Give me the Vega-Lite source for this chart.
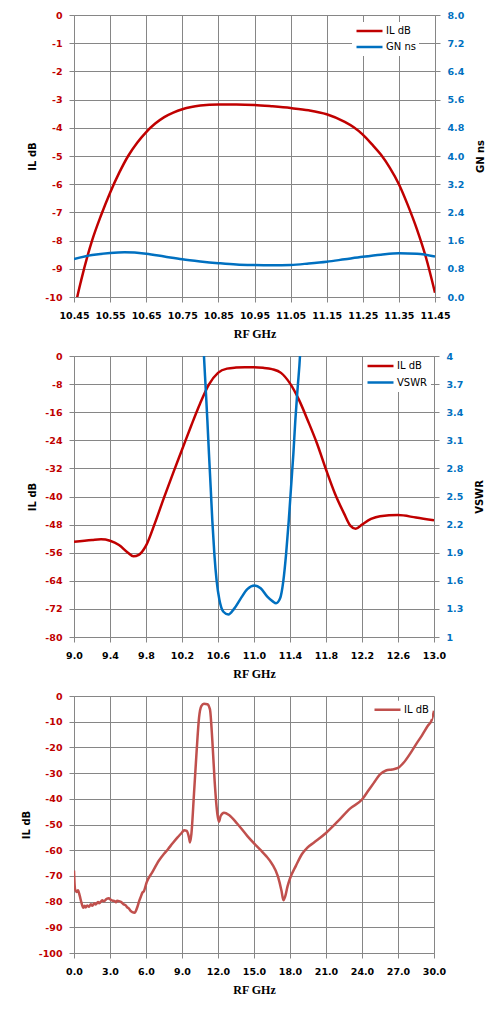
{
  "$schema": "https://vega.github.io/schema/vega-lite/v6.json",
  "background": "white",
  "padding": {"left": 21, "top": 10, "right": 5, "bottom": 5},
  "config": {
    "view": {"stroke": null},
    "axis": {
      "gridColor": "#868686", "gridOpacity": 1, "gridWidth": 1,
      "domainColor": "#868686", "domainWidth": 1,
      "tickColor": "#868686", "tickSize": 5, "tickWidth": 1, "tickCount": 30,
      "labelFont": "DejaVu Sans", "labelFontSize": 9.5, "labelFontWeight": "bold",
      "labelPadding": 7, "labelOverlap": false, "labelFlush": false,
      "titleFont": "DejaVu Sans", "titleFontSize": 10, "titleFontWeight": "bold", "titleColor": "black"
    },
    "axisX": {"labelColor": "black", "labelPadding": 8.5, "titleFont": "Liberation Serif", "titleFontSize": 12, "titlePadding": 8},
    "axisLeft": {"labelColor": "#C00000", "titlePadding": 7},
    "axisRight": {"labelColor": "#0070C0", "titleAngle": 270, "titleBaseline": "top", "titlePadding": 12, "grid": false},
    "legend": {
      "orient": "none", "title": null, "symbolType": "stroke", "symbolSize": 676, "symbolStrokeWidth": 2.5,
      "labelFont": "DejaVu Sans", "labelFontSize": 10, "labelColor": "black", "labelOffset": 2,
      "fillColor": "white", "padding": 3, "rowPadding": 4, "clipHeight": 12
    }
  },
  "datasets": {
    "p1_il": [
      {"series": "IL dB", "f": 10.45, "v": -10.6}, {"series": "IL dB", "f": 10.459, "v": -10.0},
      {"series": "IL dB", "f": 10.47, "v": -9.4}, {"series": "IL dB", "f": 10.5, "v": -8.0},
      {"series": "IL dB", "f": 10.525, "v": -7.1}, {"series": "IL dB", "f": 10.55, "v": -6.3},
      {"series": "IL dB", "f": 10.575, "v": -5.6}, {"series": "IL dB", "f": 10.6, "v": -5.0},
      {"series": "IL dB", "f": 10.625, "v": -4.53}, {"series": "IL dB", "f": 10.65, "v": -4.15},
      {"series": "IL dB", "f": 10.675, "v": -3.85}, {"series": "IL dB", "f": 10.7, "v": -3.62},
      {"series": "IL dB", "f": 10.725, "v": -3.46}, {"series": "IL dB", "f": 10.75, "v": -3.34},
      {"series": "IL dB", "f": 10.775, "v": -3.26}, {"series": "IL dB", "f": 10.8, "v": -3.21},
      {"series": "IL dB", "f": 10.85, "v": -3.17}, {"series": "IL dB", "f": 10.9, "v": -3.17},
      {"series": "IL dB", "f": 10.95, "v": -3.19}, {"series": "IL dB", "f": 11.0, "v": -3.24},
      {"series": "IL dB", "f": 11.05, "v": -3.3}, {"series": "IL dB", "f": 11.1, "v": -3.38},
      {"series": "IL dB", "f": 11.15, "v": -3.52}, {"series": "IL dB", "f": 11.2, "v": -3.79},
      {"series": "IL dB", "f": 11.225, "v": -3.98}, {"series": "IL dB", "f": 11.25, "v": -4.24},
      {"series": "IL dB", "f": 11.275, "v": -4.58}, {"series": "IL dB", "f": 11.3, "v": -4.95},
      {"series": "IL dB", "f": 11.325, "v": -5.42}, {"series": "IL dB", "f": 11.35, "v": -6.0},
      {"series": "IL dB", "f": 11.375, "v": -6.75}, {"series": "IL dB", "f": 11.4, "v": -7.6},
      {"series": "IL dB", "f": 11.425, "v": -8.6}, {"series": "IL dB", "f": 11.45, "v": -9.85}
    ],
    "p1_gn": [
      {"series": "GN ns", "f": 10.45, "v": 1.08}, {"series": "GN ns", "f": 10.5, "v": 1.19},
      {"series": "GN ns", "f": 10.55, "v": 1.25}, {"series": "GN ns", "f": 10.59, "v": 1.27},
      {"series": "GN ns", "f": 10.65, "v": 1.23}, {"series": "GN ns", "f": 10.7, "v": 1.15},
      {"series": "GN ns", "f": 10.75, "v": 1.07}, {"series": "GN ns", "f": 10.8, "v": 1.01},
      {"series": "GN ns", "f": 10.85, "v": 0.96}, {"series": "GN ns", "f": 10.9, "v": 0.92},
      {"series": "GN ns", "f": 10.95, "v": 0.905}, {"series": "GN ns", "f": 11.0, "v": 0.9},
      {"series": "GN ns", "f": 11.05, "v": 0.91}, {"series": "GN ns", "f": 11.1, "v": 0.95},
      {"series": "GN ns", "f": 11.15, "v": 1.0}, {"series": "GN ns", "f": 11.2, "v": 1.07},
      {"series": "GN ns", "f": 11.25, "v": 1.14}, {"series": "GN ns", "f": 11.3, "v": 1.2},
      {"series": "GN ns", "f": 11.35, "v": 1.24}, {"series": "GN ns", "f": 11.4, "v": 1.23},
      {"series": "GN ns", "f": 11.45, "v": 1.15}
    ],
    "p2_il": [
      {"series": "IL dB", "f": 9.0, "v": -52.9}, {"series": "IL dB", "f": 9.2, "v": -52.4},
      {"series": "IL dB", "f": 9.3, "v": -52.2}, {"series": "IL dB", "f": 9.4, "v": -52.6},
      {"series": "IL dB", "f": 9.5, "v": -53.8}, {"series": "IL dB", "f": 9.6, "v": -56.0},
      {"series": "IL dB", "f": 9.66, "v": -57.0}, {"series": "IL dB", "f": 9.72, "v": -56.6},
      {"series": "IL dB", "f": 9.8, "v": -54.0}, {"series": "IL dB", "f": 9.9, "v": -47.5},
      {"series": "IL dB", "f": 10.0, "v": -40.3}, {"series": "IL dB", "f": 10.1, "v": -33.4},
      {"series": "IL dB", "f": 10.2, "v": -26.7}, {"series": "IL dB", "f": 10.3, "v": -20.0},
      {"series": "IL dB", "f": 10.4, "v": -13.6}, {"series": "IL dB", "f": 10.5, "v": -8.1},
      {"series": "IL dB", "f": 10.6, "v": -4.8}, {"series": "IL dB", "f": 10.7, "v": -3.6},
      {"series": "IL dB", "f": 10.8, "v": -3.3}, {"series": "IL dB", "f": 10.9, "v": -3.2},
      {"series": "IL dB", "f": 11.0, "v": -3.2}, {"series": "IL dB", "f": 11.1, "v": -3.35},
      {"series": "IL dB", "f": 11.2, "v": -3.75}, {"series": "IL dB", "f": 11.3, "v": -4.8},
      {"series": "IL dB", "f": 11.4, "v": -7.8}, {"series": "IL dB", "f": 11.5, "v": -12.5},
      {"series": "IL dB", "f": 11.6, "v": -18.5}, {"series": "IL dB", "f": 11.7, "v": -24.9},
      {"series": "IL dB", "f": 11.8, "v": -32.3}, {"series": "IL dB", "f": 11.9, "v": -39.2},
      {"series": "IL dB", "f": 12.0, "v": -44.8}, {"series": "IL dB", "f": 12.07, "v": -48.3},
      {"series": "IL dB", "f": 12.13, "v": -49.2}, {"series": "IL dB", "f": 12.2, "v": -48.0},
      {"series": "IL dB", "f": 12.3, "v": -46.4}, {"series": "IL dB", "f": 12.4, "v": -45.6},
      {"series": "IL dB", "f": 12.6, "v": -45.3}, {"series": "IL dB", "f": 12.8, "v": -46.0},
      {"series": "IL dB", "f": 13.0, "v": -46.8}
    ],
    "p2_vswr": [
      {"series": "VSWR", "f": 10.43, "v": 4.3}, {"series": "VSWR", "f": 10.444, "v": 4.0},
      {"series": "VSWR", "f": 10.463, "v": 3.66}, {"series": "VSWR", "f": 10.482, "v": 3.31},
      {"series": "VSWR", "f": 10.5, "v": 2.95}, {"series": "VSWR", "f": 10.519, "v": 2.59},
      {"series": "VSWR", "f": 10.537, "v": 2.24}, {"series": "VSWR", "f": 10.56, "v": 1.88},
      {"series": "VSWR", "f": 10.585, "v": 1.6}, {"series": "VSWR", "f": 10.615, "v": 1.4},
      {"series": "VSWR", "f": 10.66, "v": 1.27}, {"series": "VSWR", "f": 10.716, "v": 1.24},
      {"series": "VSWR", "f": 10.778, "v": 1.3}, {"series": "VSWR", "f": 10.852, "v": 1.41},
      {"series": "VSWR", "f": 10.926, "v": 1.51}, {"series": "VSWR", "f": 11.007, "v": 1.55},
      {"series": "VSWR", "f": 11.074, "v": 1.52}, {"series": "VSWR", "f": 11.148, "v": 1.43},
      {"series": "VSWR", "f": 11.208, "v": 1.38}, {"series": "VSWR", "f": 11.245, "v": 1.36},
      {"series": "VSWR", "f": 11.289, "v": 1.41}, {"series": "VSWR", "f": 11.326, "v": 1.6},
      {"series": "VSWR", "f": 11.356, "v": 1.88}, {"series": "VSWR", "f": 11.386, "v": 2.24},
      {"series": "VSWR", "f": 11.411, "v": 2.59}, {"series": "VSWR", "f": 11.437, "v": 2.95},
      {"series": "VSWR", "f": 11.459, "v": 3.31}, {"series": "VSWR", "f": 11.485, "v": 3.66},
      {"series": "VSWR", "f": 11.511, "v": 4.0}, {"series": "VSWR", "f": 11.525, "v": 4.3}
    ],
    "p3_il": [
      {"series": "IL dB", "f": 0.0, "v": -67.9}, {"series": "IL dB", "f": 0.08, "v": -75.0},
      {"series": "IL dB", "f": 0.2, "v": -76.3}, {"series": "IL dB", "f": 0.33, "v": -75.6},
      {"series": "IL dB", "f": 0.47, "v": -77.6}, {"series": "IL dB", "f": 0.61, "v": -80.2},
      {"series": "IL dB", "f": 0.78, "v": -82.4}, {"series": "IL dB", "f": 0.9, "v": -81.6},
      {"series": "IL dB", "f": 0.97, "v": -82.3}, {"series": "IL dB", "f": 1.1, "v": -81.5},
      {"series": "IL dB", "f": 1.25, "v": -82.0}, {"series": "IL dB", "f": 1.4, "v": -81.0},
      {"series": "IL dB", "f": 1.53, "v": -81.6}, {"series": "IL dB", "f": 1.7, "v": -80.6},
      {"series": "IL dB", "f": 1.81, "v": -81.1}, {"series": "IL dB", "f": 2.0, "v": -80.2},
      {"series": "IL dB", "f": 2.1, "v": -80.6}, {"series": "IL dB", "f": 2.36, "v": -79.5},
      {"series": "IL dB", "f": 2.5, "v": -79.9}, {"series": "IL dB", "f": 2.72, "v": -78.9},
      {"series": "IL dB", "f": 2.9, "v": -78.7}, {"series": "IL dB", "f": 3.06, "v": -79.3},
      {"series": "IL dB", "f": 3.2, "v": -79.6}, {"series": "IL dB", "f": 3.39, "v": -79.8},
      {"series": "IL dB", "f": 3.5, "v": -80.3}, {"series": "IL dB", "f": 3.6, "v": -79.7},
      {"series": "IL dB", "f": 3.75, "v": -79.8}, {"series": "IL dB", "f": 3.94, "v": -80.2},
      {"series": "IL dB", "f": 4.1, "v": -80.9}, {"series": "IL dB", "f": 4.31, "v": -81.5},
      {"series": "IL dB", "f": 4.45, "v": -82.3}, {"series": "IL dB", "f": 4.58, "v": -82.7},
      {"series": "IL dB", "f": 4.7, "v": -83.5}, {"series": "IL dB", "f": 4.86, "v": -84.1},
      {"series": "IL dB", "f": 5.05, "v": -84.3}, {"series": "IL dB", "f": 5.28, "v": -82.1},
      {"series": "IL dB", "f": 5.45, "v": -79.5}, {"series": "IL dB", "f": 5.56, "v": -78.2},
      {"series": "IL dB", "f": 5.7, "v": -76.5}, {"series": "IL dB", "f": 5.83, "v": -75.9},
      {"series": "IL dB", "f": 6.06, "v": -72.4}, {"series": "IL dB", "f": 6.53, "v": -68.5},
      {"series": "IL dB", "f": 7.08, "v": -64.0}, {"series": "IL dB", "f": 7.5, "v": -61.4},
      {"series": "IL dB", "f": 7.83, "v": -59.6}, {"series": "IL dB", "f": 8.2, "v": -57.4},
      {"series": "IL dB", "f": 8.61, "v": -55.1}, {"series": "IL dB", "f": 9.0, "v": -53.1},
      {"series": "IL dB", "f": 9.17, "v": -52.2}, {"series": "IL dB", "f": 9.39, "v": -52.5},
      {"series": "IL dB", "f": 9.58, "v": -55.0}, {"series": "IL dB", "f": 9.67, "v": -57.0},
      {"series": "IL dB", "f": 9.78, "v": -53.8}, {"series": "IL dB", "f": 10.0, "v": -38.0},
      {"series": "IL dB", "f": 10.22, "v": -21.4}, {"series": "IL dB", "f": 10.42, "v": -8.4},
      {"series": "IL dB", "f": 10.61, "v": -3.9}, {"series": "IL dB", "f": 10.83, "v": -3.0},
      {"series": "IL dB", "f": 11.11, "v": -3.2}, {"series": "IL dB", "f": 11.33, "v": -5.2},
      {"series": "IL dB", "f": 11.53, "v": -17.5}, {"series": "IL dB", "f": 11.72, "v": -33.1},
      {"series": "IL dB", "f": 11.95, "v": -46.0}, {"series": "IL dB", "f": 12.08, "v": -48.9},
      {"series": "IL dB", "f": 12.22, "v": -46.7}, {"series": "IL dB", "f": 12.5, "v": -45.4},
      {"series": "IL dB", "f": 12.92, "v": -46.3}, {"series": "IL dB", "f": 13.61, "v": -49.7},
      {"series": "IL dB", "f": 14.45, "v": -54.5}, {"series": "IL dB", "f": 15.14, "v": -58.0},
      {"series": "IL dB", "f": 15.56, "v": -60.0}, {"series": "IL dB", "f": 16.0, "v": -62.2},
      {"series": "IL dB", "f": 16.5, "v": -65.3}, {"series": "IL dB", "f": 17.0, "v": -70.3},
      {"series": "IL dB", "f": 17.3, "v": -76.0}, {"series": "IL dB", "f": 17.45, "v": -79.5},
      {"series": "IL dB", "f": 17.6, "v": -78.0}, {"series": "IL dB", "f": 17.8, "v": -74.0},
      {"series": "IL dB", "f": 18.0, "v": -71.0}, {"series": "IL dB", "f": 18.5, "v": -66.0},
      {"series": "IL dB", "f": 19.0, "v": -61.5}, {"series": "IL dB", "f": 19.45, "v": -59.0},
      {"series": "IL dB", "f": 20.0, "v": -57.0}, {"series": "IL dB", "f": 21.0, "v": -53.3},
      {"series": "IL dB", "f": 22.0, "v": -48.7}, {"series": "IL dB", "f": 23.0, "v": -43.8},
      {"series": "IL dB", "f": 24.0, "v": -40.3}, {"series": "IL dB", "f": 24.5, "v": -37.0},
      {"series": "IL dB", "f": 25.0, "v": -33.7}, {"series": "IL dB", "f": 25.5, "v": -30.5},
      {"series": "IL dB", "f": 26.0, "v": -29.0}, {"series": "IL dB", "f": 26.5, "v": -28.6},
      {"series": "IL dB", "f": 27.0, "v": -28.0}, {"series": "IL dB", "f": 27.5, "v": -25.8},
      {"series": "IL dB", "f": 28.0, "v": -22.5}, {"series": "IL dB", "f": 28.5, "v": -18.8},
      {"series": "IL dB", "f": 29.0, "v": -15.3}, {"series": "IL dB", "f": 29.5, "v": -11.5},
      {"series": "IL dB", "f": 29.8, "v": -9.5}, {"series": "IL dB", "f": 30.0, "v": -5.7}
    ]
  },
  "bounds": "flush",
  "spacing": 59,
  "resolve": {"scale": {"color": "independent", "x": "independent", "y": "independent"}, "legend": {"color": "independent"}},
  "vconcat": [
    {
      "width": 361, "height": 282,
      "resolve": {"scale": {"y": "independent"}},
      "layer": [
        {
          "data": {"name": "p1_il"},
          "mark": {"type": "line", "clip": true, "strokeWidth": 2.5, "interpolate": "monotone"},
          "encoding": {
            "x": {"field": "f", "type": "quantitative", "scale": {"domain": [10.45, 11.45], "nice": false, "zero": false},
              "axis": {"title": "RF GHz", "format": ".2f", "tickCount": 30, "values": [10.45, 10.55, 10.65, 10.75, 10.85, 10.95, 11.05, 11.15, 11.25, 11.35, 11.45]}},
            "y": {"field": "v", "type": "quantitative", "scale": {"domain": [-10, 0], "nice": false},
              "axis": {"orient": "left", "title": "IL dB", "format": "d", "tickCount": 30, "labelExpr": "replace(datum.label, '\u2212', '-')", "values": [-10, -9, -8, -7, -6, -5, -4, -3, -2, -1, 0]}},
            "color": {"field": "series", "type": "nominal", "scale": {"domain": ["IL dB", "GN ns"], "range": ["#C00000", "#0070C0"]},
              "legend": {"legendX": 278, "legendY": 7}}
          }
        },
        {
          "data": {"name": "p1_gn"},
          "mark": {"type": "line", "clip": true, "strokeWidth": 2.5, "interpolate": "monotone"},
          "encoding": {
            "x": {"field": "f", "type": "quantitative"},
            "y": {"field": "v", "type": "quantitative", "scale": {"domain": [0, 8], "nice": false},
              "axis": {"orient": "right", "title": "GN ns", "format": ".1f", "tickCount": 30, "values": [0, 0.8, 1.6, 2.4, 3.2, 4, 4.8, 5.6, 6.4, 7.2, 8]}},
            "color": {"field": "series", "type": "nominal"}
          }
        }
      ]
    },
    {
      "width": 360, "height": 281,
      "resolve": {"scale": {"y": "independent"}},
      "layer": [
        {
          "data": {"name": "p2_il"},
          "mark": {"type": "line", "clip": true, "strokeWidth": 2.5, "interpolate": "monotone"},
          "encoding": {
            "x": {"field": "f", "type": "quantitative", "scale": {"domain": [9, 13], "nice": false, "zero": false},
              "axis": {"title": "RF GHz", "format": ".1f", "tickCount": 30, "values": [9, 9.4, 9.8, 10.2, 10.6, 11, 11.4, 11.8, 12.2, 12.6, 13]}},
            "y": {"field": "v", "type": "quantitative", "scale": {"domain": [-80, 0], "nice": false},
              "axis": {"orient": "left", "title": "IL dB", "format": "d", "tickCount": 30, "labelExpr": "replace(datum.label, '\u2212', '-')", "values": [-80, -72, -64, -56, -48, -40, -32, -24, -16, -8, 0]}},
            "color": {"field": "series", "type": "nominal", "scale": {"domain": ["IL dB", "VSWR"], "range": ["#C00000", "#0070C0"]},
              "legend": {"legendX": 289, "legendY": 1, "rowPadding": 4.5}}
          }
        },
        {
          "data": {"name": "p2_vswr"},
          "mark": {"type": "line", "clip": true, "strokeWidth": 2.5, "interpolate": "monotone"},
          "encoding": {
            "x": {"field": "f", "type": "quantitative"},
            "y": {"field": "v", "type": "quantitative", "scale": {"domain": [1, 4], "nice": false, "zero": false},
              "axis": {"orient": "right", "title": "VSWR", "format": ".2~f", "tickCount": 30, "values": [1, 1.3, 1.6, 1.9, 2.2, 2.5, 2.8, 3.1, 3.4, 3.7, 4]}},
            "color": {"field": "series", "type": "nominal"}
          }
        }
      ]
    },
    {
      "width": 360, "height": 257,
      "data": {"name": "p3_il"},
      "mark": {"type": "line", "clip": true, "strokeWidth": 2.5, "interpolate": "monotone"},
      "encoding": {
        "x": {"field": "f", "type": "quantitative", "scale": {"domain": [0, 30], "nice": false},
          "axis": {"title": "RF GHz", "format": ".1f", "tickCount": 30, "values": [0, 3, 6, 9, 12, 15, 18, 21, 24, 27, 30]}},
        "y": {"field": "v", "type": "quantitative", "scale": {"domain": [-100, 0], "nice": false},
          "axis": {"orient": "left", "title": "IL dB", "format": "d", "tickCount": 30, "labelExpr": "replace(datum.label, '\u2212', '-')", "values": [-100, -90, -80, -70, -60, -50, -40, -30, -20, -10, 0]}},
        "color": {"field": "series", "type": "nominal", "scale": {"domain": ["IL dB"], "range": ["#C0504D"]},
          "legend": {"legendX": 296, "legendY": 4.7}}
      }
    }
  ]
}
